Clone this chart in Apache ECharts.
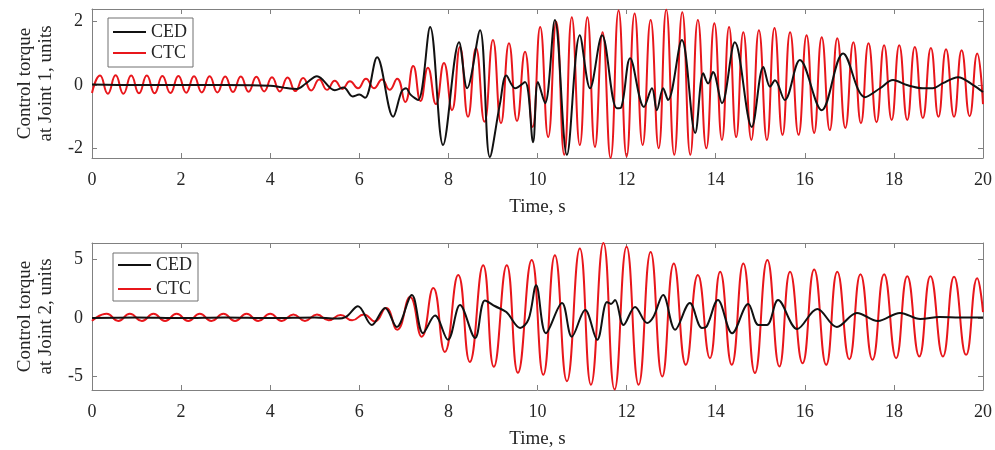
<!DOCTYPE html>
<html>
<head>
<meta charset="utf-8">
<script src="https://cdn.jsdelivr.net/npm/echarts@6/dist/echarts.min.js"></script>
<style>
html,body{margin:0;padding:0;background:#fff;}
#chart{width:995px;height:450px;}
</style>
</head>
<body>
<div id="chart"></div>
<script>
// X ticks
const xTicks = [0, 2, 4, 6, 8, 10, 12, 14, 16, 18, 20];
const yTicks1 = [-2, 0, 2];
const yTicks2 = [-5, 0, 5];
const seriesNames = ['CED', 'CTC'];
const yName1 = 'Control torque\nat Joint 1, units';
const yName2 = 'Control torque\nat Joint 2, units';
const xName = 'Time, s';

// Joint 1, CTC (times and values of extrema)
const ctc1T = [0, 0.18, 0.355, 0.53, 0.705, 0.88, 1.055, 1.23, 1.405, 1.58, 1.76, 1.94, 2.115, 2.29, 2.465, 2.64, 2.815, 2.99, 3.165, 3.34, 3.515, 3.69, 3.865, 4.04, 4.215, 4.39, 4.565, 4.74, 4.92, 5.10, 5.275, 5.45, 5.62, 5.79, 5.97, 6.15, 6.33, 6.51, 6.68, 6.85, 7.03, 7.21, 7.375, 7.54, 7.72, 7.90, 8.08, 8.26, 8.44, 8.62, 8.81, 9.0, 9.18, 9.36, 9.54, 9.72, 9.89, 10.06, 10.24, 10.42, 10.6, 10.77, 10.95, 11.12, 11.29, 11.46, 11.64, 11.82, 12.0, 12.18, 12.36, 12.54, 12.72, 12.89, 13.07, 13.25, 13.43, 13.6, 13.79, 13.97, 14.14, 14.3, 14.46, 14.62, 14.8, 14.97, 15.15, 15.32, 15.5, 15.67, 15.86, 16.04, 16.21, 16.38, 16.56, 16.73, 16.91, 17.09, 17.26, 17.43, 17.61, 17.78, 17.95, 18.12, 18.3, 18.47, 18.65, 18.83, 19.0, 19.17, 19.35, 19.52, 19.7, 19.87, 20];
const ctc1V = [-0.25, 0.30, -0.27, 0.31, -0.27, 0.30, -0.26, 0.30, -0.26, 0.29, -0.25, 0.29, -0.24, 0.28, -0.23, 0.28, -0.23, 0.27, -0.22, 0.27, -0.21, 0.26, -0.2, 0.25, -0.2, 0.24, -0.19, 0.22, -0.17, 0.18, -0.15, 0.14, -0.12, 0.12, -0.1, 0.2, -0.1, 0.18, -0.15, 0.2, -0.53, 0.6, -0.5, 0.55, -0.6, 0.7, -0.79, 1.2, -1.0, 1.17, -1.16, 1.42, -1.2, 1.32, -1.13, 1.05, -1.32, 1.83, -1.64, 2.0, -2.2, 2.14, -1.89, 2.14, -1.95, 1.67, -2.3, 2.35, -2.25, 2.26, -1.89, 2.05, -1.99, 2.38, -2.2, 2.3, -2.2, 2.05, -1.99, 1.95, -1.73, 1.83, -1.64, 1.67, -1.73, 1.73, -1.73, 1.80, -1.57, 1.67, -1.57, 1.57, -1.51, 1.51, -1.42, 1.48, -1.35, 1.35, -1.2, 1.32, -1.17, 1.26, -1.1, 1.26, -1.1, 1.20, -1.04, 1.17, -1.0, 1.13, -1.0, 1.10, -0.98, 1.0, -0.6];

// Joint 1, CED
const ced1T = [0, 1, 2, 3, 4, 4.3, 4.6, 4.8, 5.05, 5.45, 5.65, 5.85, 6.0, 6.13, 6.4, 6.76, 6.95, 7.05, 7.15, 7.32, 7.59, 7.88, 8.24, 8.42, 8.71, 8.93, 9.16, 9.3, 9.5, 9.72, 9.9, 10.01, 10.17, 10.39, 10.66, 10.95, 11.18, 11.45, 11.78, 11.88, 12.08, 12.39, 12.57, 12.68, 12.82, 12.93, 13.24, 13.54, 13.72, 13.83, 13.94, 14.14, 14.43, 14.81, 15.07, 15.22, 15.33, 15.55, 15.89, 16.38, 16.86, 17.35, 17.69, 17.98, 18.29, 18.65, 18.87, 19.1, 19.44, 19.78, 20];
const ced1V = [0.02, 0.0, 0.0, 0.0, -0.02, -0.08, -0.12, 0.05, 0.28, -0.16, -0.08, -0.36, -0.3, -0.4, 0.88, -1.0, -0.2, -0.1, -0.3, -0.47, 1.83, -1.89, 1.35, -0.1, 1.73, -2.27, -0.57, 0.3, -0.1, 0.1, -1.8, 0.1, -0.57, 2.05, -2.2, 1.57, -0.1, 1.57, -0.73, -0.7, 0.85, -0.69, -0.1, -0.79, -0.1, -0.47, 1.42, -1.51, 0.37, 0.05, 0.41, -0.57, 1.35, -1.32, 0.57, -0.05, 0.15, -0.47, 0.79, -0.79, 1.0, -0.38, -0.1, 0.16, 0.0, -0.1, -0.1, 0.06, 0.25, 0.0, -0.22];

// Joint 2, CTC
const ctc2T = [0, 0.33, 0.59, 0.85, 1.12, 1.38, 1.64, 1.9, 2.16, 2.42, 2.68, 2.95, 3.21, 3.47, 3.73, 4.0, 4.26, 4.52, 4.78, 5.05, 5.31, 5.58, 5.84, 6.1, 6.35, 6.6, 6.85, 7.14, 7.4, 7.66, 7.92, 8.22, 8.48, 8.78, 9.02, 9.31, 9.56, 9.87, 10.13, 10.39, 10.66, 10.95, 11.2, 11.48, 11.73, 12.0, 12.27, 12.54, 12.8, 13.06, 13.33, 13.6, 13.87, 14.1, 14.36, 14.62, 14.88, 15.16, 15.43, 15.67, 15.95, 16.21, 16.48, 16.73, 17.0, 17.25, 17.52, 17.78, 18.05, 18.3, 18.57, 18.82, 19.1, 19.35, 19.62, 19.87, 20];
const ctc2V = [-0.25, 0.35, -0.25, 0.35, -0.25, 0.35, -0.25, 0.35, -0.25, 0.35, -0.25, 0.35, -0.25, 0.35, -0.25, 0.35, -0.25, 0.3, -0.25, 0.3, -0.2, 0.25, -0.2, 0.3, -0.3, 0.85, -1.0, 1.8, -1.6, 2.55, -2.9, 3.66, -3.75, 4.5, -4.17, 4.5, -4.68, 4.94, -4.85, 5.36, -5.4, 5.93, -5.7, 6.4, -6.1, 6.07, -5.7, 5.64, -5.0, 4.65, -4.0, 3.66, -3.43, 3.94, -4.0, 4.65, -4.7, 4.94, -4.14, 3.94, -3.86, 4.14, -4.0, 3.94, -3.52, 3.74, -3.57, 3.74, -3.43, 3.57, -3.29, 3.57, -3.29, 3.52, -3.15, 3.38, 0.5];

// Joint 2, CED
const ced2T = [0, 1, 2, 3, 4, 5, 5.5, 5.7, 5.97, 6.28, 6.58, 6.84, 7.18, 7.43, 7.7, 7.99, 8.26, 8.6, 8.82, 9.05, 9.3, 9.61, 9.8, 9.97, 10.19, 10.55, 10.77, 11.07, 11.34, 11.56, 11.65, 11.74, 11.93, 12.19, 12.46, 12.6, 12.82, 13.09, 13.42, 13.69, 13.8, 14.05, 14.37, 14.73, 14.96, 15.15, 15.4, 15.83, 16.28, 16.72, 17.17, 17.64, 18.14, 18.59, 19.03, 19.48, 20];
const ced2V = [0, 0.05, 0, 0.05, 0, 0.05, -0.05, 0.1, 1.0, -0.6, 0.85, -0.77, 1.96, -1.3, 0.2, -1.87, 1.1, -1.7, 1.5, 1.0, 0.5, -0.85, -0.1, 2.8, -1.3, 1.28, -1.6, 0.68, -1.87, 1.36, 1.2, 1.53, -0.6, 0.94, -0.43, 0.08, 1.96, -1.0, 1.28, -0.85, -0.7, 1.53, -1.3, 1.2, -0.6, -0.6, 1.53, -0.94, 0.77, -0.77, 0.43, -0.26, 0.43, -0.09, 0.09, 0.05, 0.05];

function pairs(t, v) { return t.map((x, i) => [x, v[i]]); }

const FONT = 'Liberation Serif';
const TXT = '#262626';
const AX = '#808080';
const RED = '#e8161b';
const BLK = '#111111';

function xAxes(gi) {
  return [{
    type: 'value', gridIndex: gi, position: 'bottom', min: 0, max: 20, interval: 2,
    name: xName, nameLocation: 'middle', nameGap: 40, nameMoveOverlap: false,
    nameTextStyle: { fontFamily: FONT, fontSize: 19, color: TXT },
    axisLine: { show: true, onZero: false, lineStyle: { color: AX, width: 1 } },
    axisTick: { show: true, inside: true, length: 5, lineStyle: { color: AX } },
    axisLabel: { fontFamily: FONT, fontSize: 18, color: TXT, margin: 13 },
    splitLine: { show: false }
  }, {
    type: 'value', gridIndex: gi, position: 'top', min: 0, max: 20, interval: 2,
    axisLine: { show: true, onZero: false, lineStyle: { color: AX, width: 1 } },
    axisTick: { show: true, inside: true, length: 5, lineStyle: { color: AX } },
    axisLabel: { show: false }, splitLine: { show: false }
  }];
}
function yAxes(gi, mn, mx, ticks, nm) {
  return [{
    type: 'value', gridIndex: gi, position: 'left', min: mn, max: mx,
    name: nm, nameLocation: 'middle', nameGap: 35, nameRotate: 90, nameMoveOverlap: false,
    nameTextStyle: { fontFamily: FONT, fontSize: 19, color: TXT, lineHeight: 21 },
    axisLine: { show: true, onZero: false, lineStyle: { color: AX, width: 1 } },
    axisTick: { show: true, inside: true, length: 5, lineStyle: { color: AX }, customValues: ticks },
    axisLabel: { fontFamily: FONT, fontSize: 18, color: TXT, margin: 9, customValues: ticks },
    splitLine: { show: false }
  }, {
    type: 'value', gridIndex: gi, position: 'right', min: mn, max: mx,
    axisLine: { show: true, onZero: false, lineStyle: { color: AX, width: 1 } },
    axisTick: { show: true, inside: true, length: 5, lineStyle: { color: AX }, customValues: ticks },
    axisLabel: { show: false, customValues: ticks }, splitLine: { show: false }
  }];
}

function lineSeries(name, xi, yi, data, color, sm) {
  return {
    name: name, type: 'line', xAxisIndex: xi, yAxisIndex: yi, data: data,
    symbol: 'none', showSymbol: false, smooth: sm, clip: true,
    lineStyle: { color: color, width: 2 }, itemStyle: { color: color },
    animation: false
  };
}

const chart = echarts.init(document.getElementById('chart'), null, { renderer: 'canvas' });
chart.setOption({
  animation: false,
  backgroundColor: '#ffffff',
  grid: [
    { left: 92, top: 9, width: 891, height: 149, containLabel: false, outerBoundsMode: 'none' },
    { left: 92, top: 243, width: 891, height: 147, containLabel: false, outerBoundsMode: 'none' }
  ],
  xAxis: [...xAxes(0), ...xAxes(1)],
  yAxis: [...yAxes(0, -2.3, 2.4, yTicks1, yName1), ...yAxes(1, -6.15, 6.4, yTicks2, yName2)],
  legend: [{
    data: seriesNames, orient: 'vertical', left: 108, top: 18,
    padding: [5, 6, 5, 5], itemGap: 3, itemWidth: 33, itemHeight: 2, icon: 'rect',
    backgroundColor: '#ffffff', borderColor: '#707070', borderWidth: 1,
    textStyle: { fontFamily: FONT, fontSize: 18, color: TXT, lineHeight: 18, height: 18 }, selectedMode: false
  }, {
    data: seriesNames, orient: 'vertical', left: 113, top: 253,
    padding: [3, 6, 3, 5], itemGap: 6, itemWidth: 33, itemHeight: 2, icon: 'rect',
    backgroundColor: '#ffffff', borderColor: '#707070', borderWidth: 1,
    textStyle: { fontFamily: FONT, fontSize: 18, color: TXT, lineHeight: 18, height: 18 }, selectedMode: false
  }],
  series: [
    lineSeries(seriesNames[1], 0, 0, pairs(ctc1T, ctc1V), RED, 0.5),
    lineSeries(seriesNames[0], 0, 0, pairs(ced1T, ced1V), BLK, 0.35),
    lineSeries(seriesNames[1], 2, 2, pairs(ctc2T, ctc2V), RED, 0.5),
    lineSeries(seriesNames[0], 2, 2, pairs(ced2T, ced2V), BLK, 0.35)
  ]
});
</script>
</body>
</html>
